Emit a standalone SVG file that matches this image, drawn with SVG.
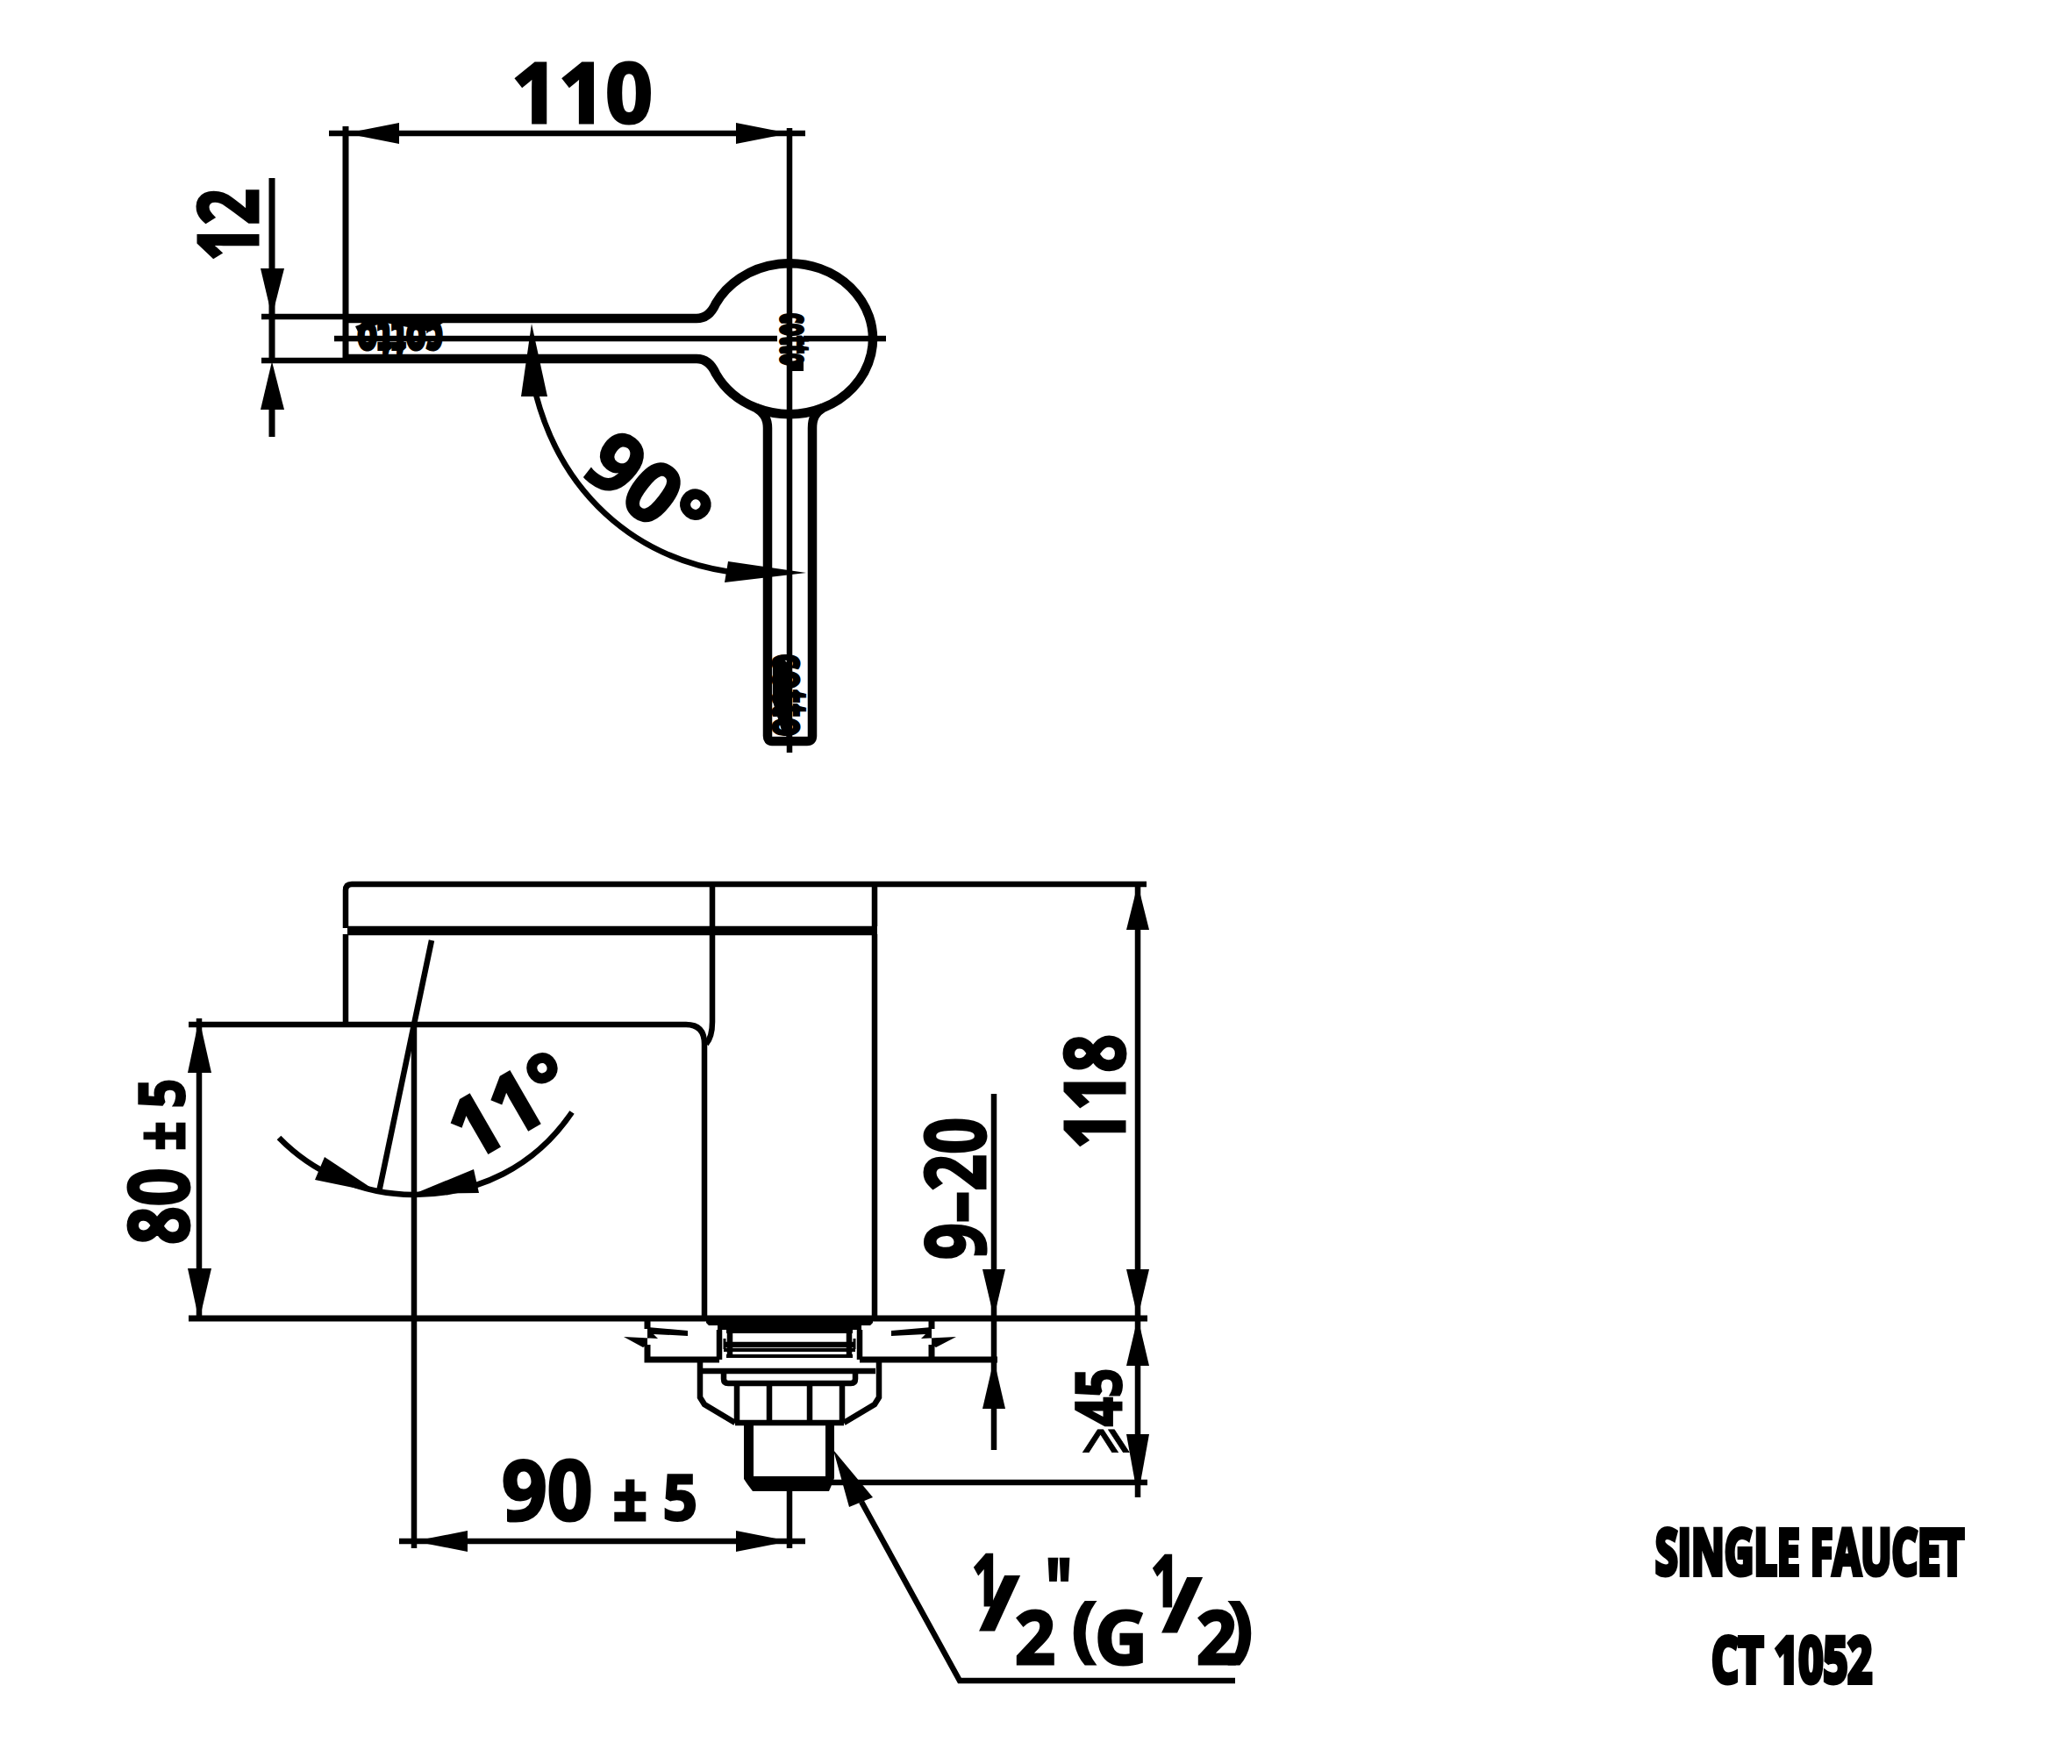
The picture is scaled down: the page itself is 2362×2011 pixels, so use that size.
<svg xmlns="http://www.w3.org/2000/svg" width="2362" height="2011" viewBox="0 0 2362 2011">
<style>
.l{fill:none;stroke:#000;stroke-width:6.5}
.t{fill:none;stroke:#000;stroke-width:10.5}
.m{fill:none;stroke:#000;stroke-width:7}
.a{fill:#000;stroke:none}
text{font-family:"Open Sans","Liberation Sans",sans-serif;font-weight:700;fill:#000}
.d{font-size:95px;stroke:#000;stroke-width:3px}
.h{font-size:72px;stroke:#000;stroke-width:6px}
.s{font-size:56px;stroke:#000;stroke-width:4px}
</style>
<rect width="2362" height="2011" fill="#fff"/>
<g id="top-view">
<path class="t" d="M394,363H794C806,363 812,355 816,346A95,86 0 1 1 938,465C930,470 926,476 926,488V839Q926,845 920,845H880Q875,845 875,839V488C875,476 870,470 862,465A95,86 0 0 1 816,426C812,417 806,409 794,409H394"/>
<path class="t" d="M862,465A95,86 0 0 0 938,465"/>
<path class="m" d="M394,144V412"/>
<path class="l" d="M381,386H886M916,386H1010M900,146V858"/>
<text class="s" transform="translate(505,368) rotate(180)" textLength="98" lengthAdjust="spacingAndGlyphs">cotto</text>
<path class="a" d="M405,372Q430,362 460,361H480L505,368L490,378L440,368Q420,372 408,378Z"/>
<text class="s" style="stroke-width:5px" transform="translate(890,357) rotate(90) scale(1,.8)" textLength="60" lengthAdjust="spacingAndGlyphs">cotto</text>
<rect class="a" x="903" y="412" width="13" height="11"/>
<text class="s" style="stroke-width:2px" transform="translate(881,745) rotate(90)" textLength="95" lengthAdjust="spacingAndGlyphs">cotto</text>
<path class="a" d="M881,755L888,747L897,755L897,840L892,836L881,800Z"/>
</g>
<g id="front-view">
<path class="l" d="M394,1058V1015Q394,1008 401,1008H1307M394,1065V1168M812,1010V1165Q812,1182 805,1190M997,1010V1056M997,1065V1500"/>
<path class="t" d="M396,1061H1000"/>
<path class="l" d="M215,1168H782Q803,1168 803,1190V1500"/>
<path class="m" d="M215,1503H1308"/>
<path class="l" d="M472,1168V1765"/>
</g>
<g id="fitting">
<path class="a" d="M805,1500H995V1508L992,1511H982V1516H818V1511H808L805,1508Z"/>
<path class="l" d="M820,1516V1550M980,1516V1550M832,1518V1548M968,1518V1548"/>
<path d="M826,1526V1538M974,1526V1538" style="fill:none;stroke:#000;stroke-width:3"/>
<path d="M828,1518H972M828,1546H972M825,1539H975" style="fill:none;stroke:#000;stroke-width:4"/>
<path class="l" d="M825,1533H975"/>
<path class="m" d="M738,1503V1515M738,1533V1550H820M1137,1550H980M1062,1503V1515M1062,1533V1550"/>
<path class="a" d="M738,1513L784,1517V1523L745,1521L750,1526L711,1524L733,1536L738,1533Z"/>
<path class="a" d="M1062,1513L1016,1517V1523L1055,1521L1050,1526L1090,1524L1067,1536L1062,1533Z"/>
<path class="l" d="M798,1553V1593L803,1601L838,1622M1002,1553V1593L997,1601L962,1622"/>
<path class="l" d="M798,1563H998M825,1566V1572Q825,1577 830,1577H970Q975,1577 975,1572V1566"/>
<path class="l" d="M840,1577V1622M877,1577V1622M923,1577V1622M960,1577V1622M838,1622H962"/>
<path class="a" d="M848,1625H859V1683H941V1625H951V1685L948,1693L945,1700H858L852,1692L848,1686Z"/>
</g>
<g id="connectors">
<path class="l" d="M298,361H394M298,411H394"/>
<path class="m" d="M310,203V412M310,467V498"/>
<polygon class="a" points="297,306 324,306 310,361"/>
<polygon class="a" points="297,467 324,467 310,412"/>
<path class="l" d="M375,152H918"/>
<polygon class="a" points="394,152 455,140 455,164"/>
<polygon class="a" points="900,152 839,140 839,164"/>
<path class="l" d="M611,450C640,560 720,635 832,652"/>
<polygon class="a" points="606,369 594,452 624,452"/>
<polygon class="a" points="919,653 830,640 826,664"/>
<path class="l" d="M492,1072L432,1359"/>
<path class="l" d="M318,1297C355,1335 410,1362 472,1362C545,1362 610,1330 652,1268"/>
<polygon class="a" points="432,1360 370,1319 359,1345"/>
<polygon class="a" points="472,1361 540,1333 546,1360"/>
<path class="l" d="M227,1161V1506"/>
<polygon class="a" points="227,1161 214,1223 241,1223"/>
<polygon class="a" points="227,1506 214,1446 241,1446"/>
<path class="l" d="M1133,1247V1653"/>
<polygon class="a" points="1133,1502 1120,1447 1146,1447"/>
<polygon class="a" points="1133,1550 1120,1606 1146,1606"/>
<path class="l" d="M1297,1008V1707M948,1690H1308"/>
<polygon class="a" points="1297,1008 1284,1060 1310,1060"/>
<polygon class="a" points="1297,1502 1284,1447 1310,1447"/>
<polygon class="a" points="1297,1502 1284,1557 1310,1557"/>
<polygon class="a" points="1297,1707 1284,1635 1310,1635"/>
<path class="l" d="M455,1757H918M900,1690V1765"/>
<polygon class="a" points="472,1757 533,1745 533,1769"/>
<polygon class="a" points="900,1757 839,1745 839,1769"/>
<polygon class="a" points="950,1653 995,1707 968,1718"/>
<path class="l" d="M982,1712L1094,1916H1408"/>
</g>
<g id="labels">
<text class="d" x="583" y="140" textLength="161" lengthAdjust="spacingAndGlyphs">110</text>
<text class="d" transform="translate(294,298) rotate(-90)" textLength="83" lengthAdjust="spacingAndGlyphs">12</text>
<text class="d" transform="translate(661,539) rotate(38)" textLength="146" lengthAdjust="spacingAndGlyphs">90°</text>
<text class="d" transform="translate(536,1326) rotate(-30)" textLength="145" lengthAdjust="spacingAndGlyphs">11°</text>
<text class="d" transform="translate(215,1419) rotate(-90)" textLength="189" lengthAdjust="spacingAndGlyphs">80 <tspan font-size="72" dy="-5">± 5</tspan></text>
<text class="d" transform="translate(1282,1310) rotate(-90)" textLength="131" lengthAdjust="spacingAndGlyphs">118</text>
<text class="d" transform="translate(1123,1436) rotate(-90)" textLength="162" lengthAdjust="spacingAndGlyphs">9–20</text>
<text class="d" style="font-size:72px" transform="translate(1278,1626) rotate(-90)" textLength="66" lengthAdjust="spacingAndGlyphs">45</text>
<text class="d" style="font-size:75px;font-family:'DejaVu Sans',sans-serif;font-weight:400;stroke-width:1px" transform="translate(1278,1660) rotate(-90) scale(.55,1)">⩾</text>
<text class="d" x="572" y="1733" textLength="223" lengthAdjust="spacingAndGlyphs">90 <tspan font-size="72">± 5</tspan></text>
<text class="d" x="1108" y="1830" style="font-size:80px" textLength="32" lengthAdjust="spacingAndGlyphs">1</text>
<text class="d" x="1118" y="1858" style="font-size:85px" textLength="43" lengthAdjust="spacingAndGlyphs">/</text>
<text class="d" x="1157" y="1897" style="font-size:84px" textLength="46" lengthAdjust="spacingAndGlyphs">2</text>
<text class="d" x="1192" y="1842" style="font-size:90px;stroke-width:4px" textLength="30" lengthAdjust="spacingAndGlyphs">"</text>
<text class="d" x="1222" y="1884" style="font-size:80px" textLength="28" lengthAdjust="spacingAndGlyphs">(</text>
<text class="d" x="1248" y="1897" style="font-size:84px" textLength="60" lengthAdjust="spacingAndGlyphs">G</text>
<text class="d" x="1312" y="1831" style="font-size:80px" textLength="32" lengthAdjust="spacingAndGlyphs">1</text>
<text class="d" x="1326" y="1860" style="font-size:85px" textLength="43" lengthAdjust="spacingAndGlyphs">/</text>
<text class="d" x="1364" y="1897" style="font-size:84px" textLength="46" lengthAdjust="spacingAndGlyphs">2</text>
<text class="d" x="1400" y="1884" style="font-size:80px" textLength="28" lengthAdjust="spacingAndGlyphs">)</text>
<text class="h" x="1887" y="1795" textLength="352" lengthAdjust="spacingAndGlyphs">SINGLE FAUCET</text>
<text class="h" x="1951" y="1918" textLength="183" lengthAdjust="spacingAndGlyphs">CT 1052</text>
</g>
</svg>
